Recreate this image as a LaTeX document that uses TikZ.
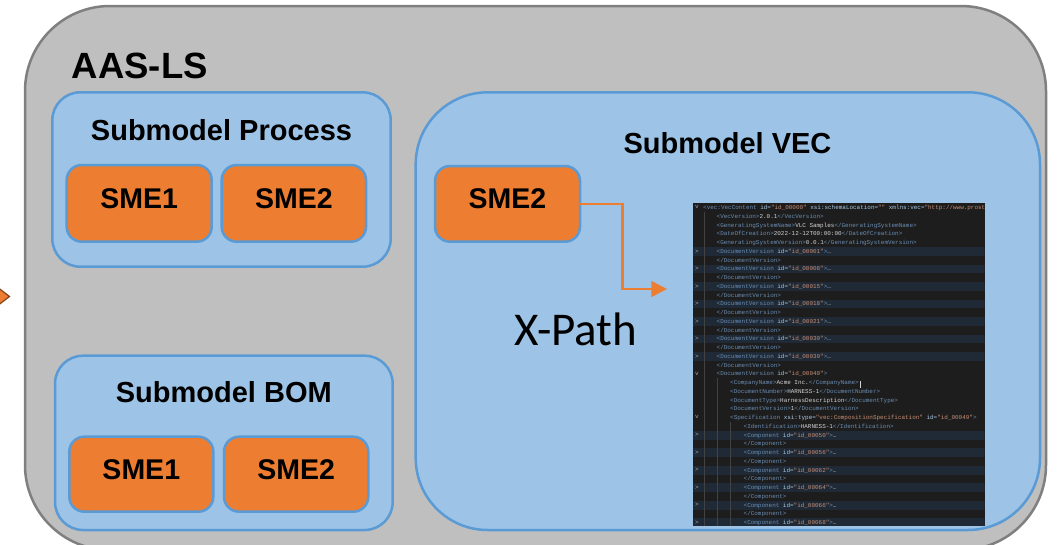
\documentclass[tikz,border=0pt]{standalone}
\usepackage{fontspec}
\setmainfont{Liberation Sans}
\newfontfamily\xpathfont{Carlito}
\newfontfamily\codefont{Liberation Mono}
\usetikzlibrary{arrows.meta}

\definecolor{aasfill}{HTML}{BFBFBF}
\definecolor{aasline}{HTML}{7F7F7F}
\definecolor{smfill}{HTML}{9DC3E6}
\definecolor{smline}{HTML}{5B9BD5}
\definecolor{smefill}{HTML}{ED7D31}
\definecolor{cbg}{HTML}{1D1D1D}
\definecolor{cband}{HTML}{1F2A36}
\definecolor{cguide}{HTML}{424242}
\definecolor{ctag}{HTML}{6A8DB3}
\definecolor{catt}{HTML}{A9C9E2}
\definecolor{cval}{HTML}{C78E74}
\definecolor{ctxt}{HTML}{D2D2D2}
\definecolor{cgut}{HTML}{A8A8A8}

% XML snippet helpers
\newcommand\qq{\char34}
\newcommand\cTag[1]{\textcolor{ctag}{#1}}
\newcommand\cAtt[1]{\textcolor{catt}{#1}}
\newcommand\cVal[1]{\textcolor{cval}{#1}}
\newcommand\cTxt[1]{\textcolor{ctxt}{#1}}
\newcommand\cEl[2]{\cTag{<#1>}\cTxt{#2}\cTag{</#1>}}
\newcommand\cOpen[2]{\cTag{<#1} \cAtt{id=}\cVal{\qq id\_#2\qq}\cTag{>}}
\newcommand\cFold[2]{\cOpen{#1}{#2}\cTxt{…}}
\newcommand\cEnd[1]{\cTag{</#1>}}
\newcommand\cl[3]{\node[codeline] (c#1) at ({703+13.5*#2},{209.6+8.75*#1}) {#3};}

\tikzset{
  aasbox/.style={rectangle, rounded corners=85pt, fill=aasfill, draw=aasline,
    line width=2.5pt, inner sep=0, outer sep=0},
  smbox/.style={rectangle, fill=smfill, draw=smline, line width=2.5pt,
    inner sep=0, outer sep=0},
  smebox/.style={rectangle, rounded corners=15pt, fill=smefill, draw=smline,
    line width=2.5pt, inner sep=0, outer sep=0,
    font=\bfseries\fontsize{28.5}{32}\selectfont,
    text height=20.4pt, text depth=10.6pt},
  smtitle/.style={anchor=base, inner sep=0, font=\bfseries\fontsize{29}{34}\selectfont},
  codeline/.style={anchor=base west, inner sep=0, font=\codefont\fontsize{5.95}{7}\selectfont},
  gutter/.style={anchor=center, inner sep=0, text=cgut, font=\codefont\fontsize{6}{7}\selectfont},
  flow/.style={draw=smefill, line width=2.7pt,
    -{Triangle[length=15.7pt, width=15.6pt]}},
}

\begin{document}
\begin{tikzpicture}[x=1pt, y=-1pt]
\useasboundingbox (0,0) rectangle (1061,544);

% incoming arrow tip at the left edge
\filldraw[fill=smefill, draw=smefill!55!black, line width=1.2pt]
  (-8,283) -- (9.5,296.5) -- (-8,310) -- cycle;

% outer container
\node[aasbox, minimum width=1021pt, minimum height=544pt] (aas) at (535.5,278) {};
\node[anchor=base west, inner sep=0, font=\bfseries\fontsize{36.5}{40}\selectfont]
  (aastitle) at (71.7,78.3) {AAS-LS};

% submodels
\node[smbox, rounded corners=28pt, minimum width=338.4pt, minimum height=174.4pt]
  (proc) at (221.5,179.5) {};
\node[smbox, rounded corners=28pt, minimum width=337.7pt, minimum height=174.3pt]
  (bom) at (223.85,442.85) {};
\node[smbox, rounded corners=72pt, minimum width=624.3pt, minimum height=437.7pt]
  (vec) at (727.85,311.15) {};

\node[smtitle] (proctitle) at (221.5,140) {Submodel Process};
\node[smtitle] (bomtitle) at (223.8,402.7) {Submodel BOM};
\node[smtitle] (vectitle) at (727.5,153.3) {Submodel VEC};

% submodel elements
\node[smebox, minimum width=145pt, minimum height=76.7pt] (psme1) at (139.2,203.35) {SME1};
\node[smebox, minimum width=144.3pt, minimum height=76.7pt] (psme2) at (293.85,203.35) {SME2};
\node[smebox, minimum width=144pt, minimum height=75pt] (bsme1) at (141.3,474.2) {SME1};
\node[smebox, minimum width=144.3pt, minimum height=75pt] (bsme2) at (296.15,474.2) {SME2};
\node[smebox, minimum width=145pt, minimum height=75.7pt] (vsme2) at (507.5,203.85) {SME2};

% XML document view
\node[rectangle, fill=cbg, inner sep=0, outer sep=0, minimum width=291.5pt,
  minimum height=323pt] (code) at (838.75,364.2) {};
\begin{scope}
\clip (code.north west) rectangle (code.south east);
\foreach \k in {5,7,9,11,13,15,17,26,28,30,32,34,36}
  \fill[cband] (693,{203.3+8.75*\k}) rectangle (985,{212.1+8.75*\k});
\draw[cguide, line width=0.6pt] (704,212) -- (704,526);
\draw[cguide, line width=0.6pt] (717,378) -- (717,526);
\draw[cguide, line width=0.6pt] (730.5,422) -- (730.5,526);
\foreach \k in {5,7,9,11,13,15,17,26,28,30,32,34,36}
  \node[gutter] (f\k) at (697,{207.7+8.75*\k}) {>};
\foreach \k in {0,19,24}
  \node[gutter] (f\k) at (697,{207.2+8.75*\k}) {v};

\cl{0}{0}{\cTag{<vec:VecContent} \cAtt{id=}\cVal{\qq id\_00000\qq} \cAtt{xsi:schemaLocation=}\cVal{\qq\qq} \cAtt{xmlns:vec=}\cVal{\qq http://www.prost}}
\cl{1}{1}{\cEl{VecVersion}{2.0.1}}
\cl{2}{1}{\cEl{GeneratingSystemName}{VLC Samples}}
\cl{3}{1}{\cEl{DateOfCreation}{2022-12-12T00:00:00}}
\cl{4}{1}{\cEl{GeneratingSystemVersion}{0.0.1}}
\foreach \k/\id in {5/00001,7/00008,9/00015,11/00018,13/00021,15/00030,17/00039}{
  \pgfmathtruncatemacro\kk{\k+1}
  \cl{\k}{1}{\cFold{DocumentVersion}{\id}}
  \cl{\kk}{1}{\cEnd{DocumentVersion}}
}
\cl{19}{1}{\cOpen{DocumentVersion}{00040}}
\cl{20}{2}{\cEl{CompanyName}{Acme Inc.}}
\cl{21}{2}{\cEl{DocumentNumber}{HARNESS-1}}
\cl{22}{2}{\cEl{DocumentType}{HarnessDescription}}
\cl{23}{2}{\cEl{DocumentVersion}{1}}
\cl{24}{2}{\cTag{<Specification} \cAtt{xsi:type=}\cVal{\qq vec:CompositionSpecification\qq} \cAtt{id=}\cVal{\qq id\_00049\qq}\cTag{>}}
\cl{25}{3}{\cEl{Identification}{HARNESS-1}}
\foreach \k/\id in {26/00050,28/00056,30/00062,32/00064,34/00066}{
  \pgfmathtruncatemacro\kk{\k+1}
  \cl{\k}{3}{\cFold{Component}{\id}}
  \cl{\kk}{3}{\cEnd{Component}}
}
\cl{36}{3}{\cFold{Component}{00068}}
% text cursor
\draw[ctxt, line width=0.6pt] (860,380.5) -- (860,388);
\end{scope}

% reference from the element into the document
\coordinate (xp) at (667,289);
\draw[flow] (vsme2.east) -- ++(42.7,0) |- (xp);
\node[anchor=base, inner sep=0, font=\xpathfont\fontsize{47}{52}\selectfont]
  (xpath) at (576,345) {X-Path};
\end{tikzpicture}
\end{document}
